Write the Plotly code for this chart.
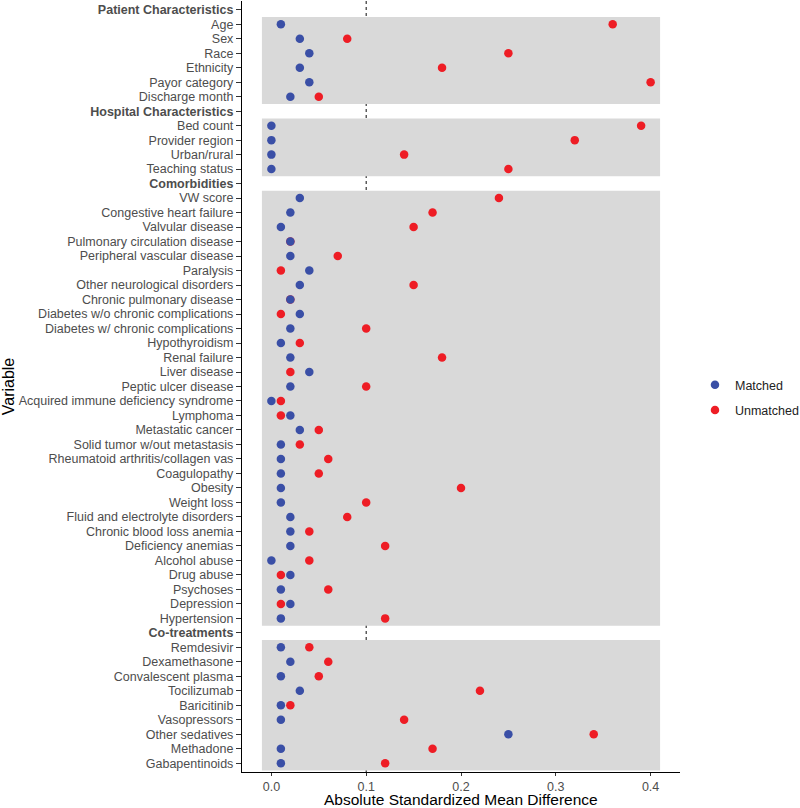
import plotly.graph_objects as go

# ---------------- data ----------------
group_names = ["Patient Characteristics", "Hospital Characteristics",
               "Comorbidities", "Co-treatments"]

patient_vars = ["Age", "Sex", "Race", "Ethnicity", "Payor category", "Discharge month"]
patient_matched = [0.01, 0.03, 0.04, 0.03, 0.04, 0.02]
patient_unmatched = [0.36, 0.08, 0.25, 0.18, 0.40, 0.05]

hospital_vars = ["Bed count", "Provider region", "Urban/rural", "Teaching status"]
hospital_matched = [0.00, 0.00, 0.00, 0.00]
hospital_unmatched = [0.39, 0.32, 0.14, 0.25]

comorb_vars = ["VW score", "Congestive heart failure", "Valvular disease",
               "Pulmonary circulation disease", "Peripheral vascular disease",
               "Paralysis", "Other neurological disorders", "Chronic pulmonary disease",
               "Diabetes w/o chronic complications", "Diabetes w/ chronic complications",
               "Hypothyroidism", "Renal failure", "Liver disease", "Peptic ulcer disease",
               "Acquired immune deficiency syndrome", "Lymphoma", "Metastatic cancer",
               "Solid tumor w/out metastasis", "Rheumatoid arthritis/collagen vas",
               "Coagulopathy", "Obesity", "Weight loss", "Fluid and electrolyte disorders",
               "Chronic blood loss anemia", "Deficiency anemias", "Alcohol abuse",
               "Drug abuse", "Psychoses", "Depression", "Hypertension"]
comorb_matched = [0.03, 0.02, 0.01, 0.02, 0.02, 0.04, 0.03, 0.02, 0.03, 0.02,
                  0.01, 0.02, 0.04, 0.02, 0.00, 0.02, 0.03, 0.01, 0.01, 0.01,
                  0.01, 0.01, 0.02, 0.02, 0.02, 0.00, 0.02, 0.01, 0.02, 0.01]
comorb_unmatched = [0.24, 0.17, 0.15, 0.02, 0.07, 0.01, 0.15, 0.02, 0.01, 0.10,
                    0.03, 0.18, 0.02, 0.10, 0.01, 0.01, 0.05, 0.03, 0.06, 0.05,
                    0.20, 0.10, 0.08, 0.04, 0.12, 0.04, 0.01, 0.06, 0.01, 0.12]

cotreat_vars = ["Remdesivir", "Dexamethasone", "Convalescent plasma", "Tocilizumab",
                "Baricitinib", "Vasopressors", "Other sedatives", "Methadone",
                "Gabapentinoids"]
cotreat_matched = [0.01, 0.02, 0.01, 0.03, 0.01, 0.01, 0.25, 0.01, 0.01]
cotreat_unmatched = [0.04, 0.06, 0.05, 0.22, 0.02, 0.14, 0.34, 0.17, 0.12]

x_ticks = [0.0, 0.1, 0.2, 0.3, 0.4]
threshold = 0.1
x_title = "Absolute Standardized Mean Difference"
y_title = "Variable"

# ---------------- style constants ----------------
BAND_X = (-0.01, 0.41)
X_RANGE = (-0.031, 0.431)
BLUE = "#3A4FA6"
RED = "#EE1D25"
BAND = "#D9D9D9"
LABEL = "#4D4D4D"
FONT = "Arial, Liberation Sans, sans-serif"

groups = [
    (group_names[0], patient_vars, patient_matched, patient_unmatched),
    (group_names[1], hospital_vars, hospital_matched, hospital_unmatched),
    (group_names[2], comorb_vars, comorb_matched, comorb_unmatched),
    (group_names[3], cotreat_vars, cotreat_matched, cotreat_unmatched),
]

labels, y_m, x_m, y_u, x_u, bands = [], [], [], [], [], []
for gname, vars_, m, u in groups:
    labels.append("<b>" + gname + "</b>")
    start = len(labels)
    for v, mv, uv in zip(vars_, m, u):
        idx = len(labels)
        labels.append(v)
        y_m.append(idx); x_m.append(mv)
        y_u.append(idx); x_u.append(uv)
    bands.append((start - 0.5, len(labels) - 1 + 0.5))

n = len(labels)

fig = go.Figure()
fig.add_trace(go.Scatter(x=x_u, y=y_u, mode="markers", name="Unmatched",
                         marker=dict(color=RED, size=8.5), legendrank=2,
                         legendgroup="u", cliponaxis=False))
fig.add_trace(go.Scatter(x=x_m, y=y_m, mode="markers", name="Matched",
                         marker=dict(color=BLUE, size=8.5), legendrank=1,
                         legendgroup="m", cliponaxis=False))

shapes = []
for y0, y1 in bands:
    shapes.append(dict(type="rect", xref="x", yref="y", x0=BAND_X[0], x1=BAND_X[1],
                       y0=y0, y1=y1, fillcolor=BAND, line=dict(width=0), layer="below"))
shapes.append(dict(type="line", xref="x", yref="paper", x0=threshold, x1=threshold,
                   y0=0, y1=1, line=dict(color="#222222", width=1.1, dash="dot"),
                   layer="below"))

fig.update_layout(
    width=800, height=808,
    margin=dict(l=242, r=120, t=1, b=36, autoexpand=False),
    paper_bgcolor="white", plot_bgcolor="white",
    font=dict(family=FONT, size=12.5, color=LABEL),
    shapes=shapes,
    showlegend=True,
    legend=dict(x=1.0342, xanchor="left", y=0.4856, yanchor="middle",
                font=dict(size=12.5, color="#222222"), itemwidth=30,
                tracegroupgap=6, bgcolor="rgba(0,0,0,0)"),
    annotations=[dict(text=x_title, xref="paper", yref="paper", x=0.5, y=0,
                      xanchor="center", yanchor="middle", yshift=-27, borderpad=0,
                      showarrow=False, font=dict(size=15.5, color="black"))],
    xaxis=dict(range=list(X_RANGE), tickvals=x_ticks,
               ticktext=[f"{t:.1f}" for t in x_ticks],
               showgrid=False, zeroline=False, showline=True, automargin=False,
               linecolor="black", linewidth=1.3, ticks="outside", ticklen=3,
               tickcolor="#333333", tickwidth=1,
               tickfont=dict(size=12.5, color=LABEL)),
    yaxis=dict(range=[n - 1 + 0.6, -0.6], tickvals=list(range(n)), ticktext=labels,
               showgrid=False, zeroline=False, showline=True, automargin=False,
               linecolor="black", linewidth=1.3, ticks="outside", ticklen=5,
               tickcolor="#333333", tickwidth=1,
               tickfont=dict(size=12.5, color=LABEL),
               title=dict(text=y_title, font=dict(size=16, color="black"),
                          standoff=3)),
)

fig.write_html("out.html",
               config={"displayModeBar": False},
               post_script="document.body.style.margin='0';"
                           "document.body.style.overflow='hidden';")
